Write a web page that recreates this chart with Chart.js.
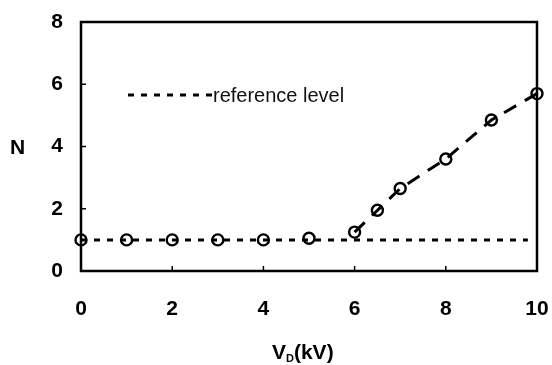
<!DOCTYPE html>
<html>
<head>
<meta charset="utf-8">
<script src="https://cdn.jsdelivr.net/npm/chart.js@4/dist/chart.umd.min.js"></script>
<style>
  html, body { margin: 0; padding: 0; background: #fff; }
  #wrap { width: 552px; height: 365px; }
</style>
</head>
<body>
<div id="wrap"><canvas id="chart"></canvas></div>
<script>
// measured data
const voltages = [0, 1, 2, 3, 4, 5, 6, 6.5, 7, 8, 9, 10];
const nValues = [1, 1, 1, 1, 1, 1.05, 1.25, 1.95, 2.65, 3.6, 4.85, 5.7];

// reference level (dotted)
const refX = [0, 9.8];
const refY = [1, 1];

// dashed trend joins the points above 6 kV
const trendStart = 6;

const xTicks = [0, 2, 4, 6, 8, 10];
const yTicks = [0, 2, 4, 6, 8];

const FONT = 'Liberation Sans, Arial, sans-serif';

const toPoints = (xs, ys) => xs.map((x, i) => ({ x: x, y: ys[i] }));

// frame, inner ticks, axis titles and legend text
const decorPlugin = {
    id: 'decor',
    afterDraw(chart) {
        const { ctx, chartArea: a, scales } = chart;
        ctx.save();
        ctx.strokeStyle = '#000';

        // inner tick marks
        ctx.lineWidth = 1.5;
        xTicks.slice(1, -1).forEach(v => {
            const px = scales.x.getPixelForValue(v);
            ctx.beginPath();
            ctx.moveTo(px, a.bottom);
            ctx.lineTo(px, a.bottom - 5);
            ctx.stroke();
        });
        yTicks.slice(1, -1).forEach(v => {
            const py = scales.y.getPixelForValue(v);
            ctx.beginPath();
            ctx.moveTo(a.left, py);
            ctx.lineTo(a.left + 5, py);
            ctx.stroke();
        });

        // box
        ctx.lineWidth = 2.5;
        ctx.strokeRect(a.left, a.top, a.right - a.left, a.bottom - a.top);

        // y title
        ctx.fillStyle = '#000';
        ctx.font = 'bold 21px ' + FONT;
        ctx.textAlign = 'left';
        ctx.textBaseline = 'middle';
        ctx.fillText('N', 10, 148);

        // x title with subscript
        const y0 = 353;
        let x = 272;
        ctx.fillText('V', x, y0);
        x += ctx.measureText('V').width;
        ctx.font = 'bold 11px ' + FONT;
        ctx.fillText('D', x, y0 + 6);
        x += ctx.measureText('D').width;
        ctx.font = 'bold 21px ' + FONT;
        ctx.fillText('(kV)', x, y0);

        // legend
        ctx.lineWidth = 3;
        ctx.setLineDash([6, 7]);
        ctx.beginPath();
        ctx.moveTo(128, 95);
        ctx.lineTo(214, 95);
        ctx.stroke();
        ctx.setLineDash([]);
        ctx.font = '20px ' + FONT;
        ctx.fillStyle = '#111';
        ctx.fillText('reference level', 213, 96);
        ctx.restore();
    }
};

const trendIdx = voltages.indexOf(trendStart);

new Chart(document.getElementById('chart'), {
    type: 'scatter',
    data: {
        datasets: [
            {
                data: toPoints(refX, refY),
                showLine: true,
                borderColor: '#000',
                borderWidth: 3,
                borderDash: [6, 7],
                pointRadius: 0,
                clip: false
            },
            {
                data: toPoints(voltages.slice(trendIdx), nValues.slice(trendIdx)),
                showLine: true,
                borderColor: '#000',
                borderWidth: 3,
                borderDash: [14, 10],
                pointRadius: 0,
                clip: false
            },
            {
                data: toPoints(voltages, nValues),
                showLine: false,
                pointRadius: 5.5,
                pointBorderWidth: 2.4,
                pointBorderColor: '#000',
                pointBackgroundColor: '#fff',
                clip: false
            }
        ]
    },
    options: {
        responsive: true,
        maintainAspectRatio: false,
        animation: false,
        layout: { padding: { top: 22, right: 15, left: 0, bottom: 0 } },
        plugins: {
            legend: { display: false },
            tooltip: { enabled: false }
        },
        scales: {
            x: {
                type: 'linear',
                min: 0,
                max: 10,
                border: { display: false },
                grid: { display: false, drawTicks: false },
                afterBuildTicks: s => { s.ticks = xTicks.map(v => ({ value: v })); },
                afterFit: s => { s.height = 94; s.paddingLeft = 0; s.paddingRight = 0; },
                ticks: {
                    padding: 26,
                    color: '#000',
                    font: { family: FONT, size: 21, weight: 'bold' }
                }
            },
            y: {
                type: 'linear',
                min: 0,
                max: 8,
                border: { display: false },
                grid: { display: false, drawTicks: false },
                afterBuildTicks: s => { s.ticks = yTicks.map(v => ({ value: v })); },
                afterFit: s => { s.width = 81; s.paddingTop = 0; s.paddingBottom = 0; },
                ticks: {
                    padding: 18,
                    color: '#000',
                    font: { family: FONT, size: 21, weight: 'bold' }
                }
            }
        }
    },
    plugins: [decorPlugin]
});
</script>
</body>
</html>
